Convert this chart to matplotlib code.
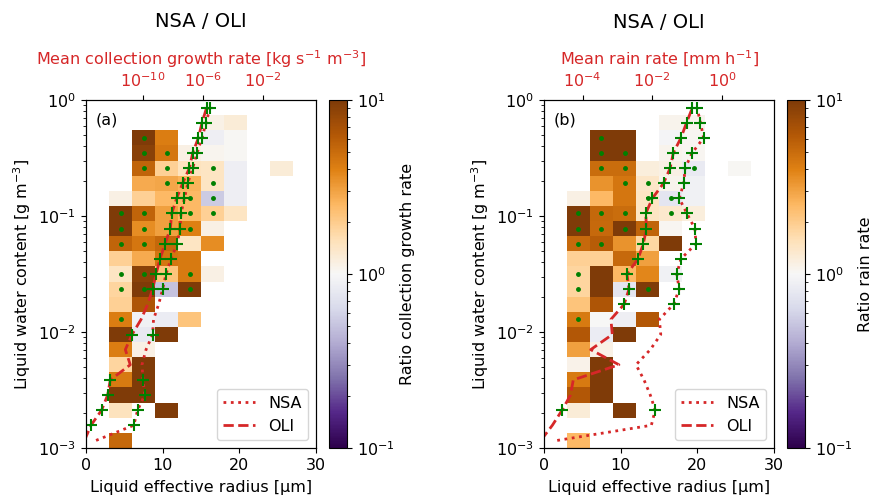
import numpy as np
import matplotlib.pyplot as plt
from matplotlib.colors import LogNorm
from matplotlib.ticker import NullLocator

plt.rcParams['font.size'] = 11.5

n = np.nan

# bins: effective radius (um) and liquid water content (g m-3)
reff_edges = np.arange(0, 31, 3)
lwc_edges = np.logspace(-3, 0, 24)
lwc_mid = np.sqrt(lwc_edges[:-1] * lwc_edges[1:])
reff_mid = 0.5 * (reff_edges[:-1] + reff_edges[1:])


def pad(row):
    return list(row) + [n] * (10 - len(row))


# ratio NSA/OLI of collection growth rate, rows from lowest LWC bin upward
ratio_cg = [pad(r) for r in [
    [n, 5.3],
    [],
    [n, 1.5, n, 10],
    [n, 10, 10],
    [n, 4.3, 10],
    [n, 1.8, 10],
    [n, 4.2, 1.15],
    [n, 10, 0.8, 10],
    [n, 4.2, 0.9, 0.85, 2.2],
    [n, 1.9, 6.5],
    [n, 1.8, 10, 0.5, 10],
    [n, 1.45, 9, 2.2, 4.3, 1.15],
    [n, 1.9, 2.8, 4.5, 4.3],
    [n, 5.5, 4.5, 5.3, 1.45, 3.6],
    [n, 10, 3.6, 3.1, 4.0, 1.15],
    [n, 10, 5.5, 3.1, 2.5, 1.9, 1.45],
    [n, 1.15, 1.9, 2.5, 2.5, 0.55, 0.87],
    [n, n, 2.8, 2.9, 2.6, 1.45, 0.88],
    [n, n, 5.5, 1.9, 1.5, 1.45, 0.87, n, 1.25],
    [n, n, 9, 4.5, 1.15, 1.06, 1.03],
    [n, n, 10, 4.2, n, 0.88, 1.03],
    [n, n, n, n, n, 1.12, 1.25],
    [],
]]

# ratio NSA/OLI of rain rate
ratio_rr = [pad(r) for r in [
    [n, 2.5],
    [],
    [n, 1.25, n, 10],
    [n, 6.3, 10],
    [n, 4.3, 10],
    [n, 1.1, 10],
    [n, 3.1, 1.12],
    [n, 6.3, 0.85, 10],
    [n, 4.3, 1.0, 0.88, 6.3],
    [n, 2.2, 6.5],
    [n, 1.8, 10, 0.75, 10],
    [n, 1.8, 10, 2.5, 3.8, 0.9],
    [n, 1.9, 1.9, 5.2, 3.1],
    [n, 5.2, 6.0, 3.4, 1.75, 10],
    [n, 10, 5.2, 10, 5.5, 1.04],
    [n, 10, 5.3, 5.0, 1.45, 1.35, 1.2],
    [n, 1.15, 2.5, 4.5, 1.45, 0.75, 0.9],
    [n, n, 3.4, 4.5, 1.4, 1.08, 0.9],
    [n, n, 5.0, 5.0, 1.2, 1.15, 0.82, n, 1.03],
    [n, n, 10, 10, n, 1.08, 1.05],
    [n, n, 10, 10, n, 0.95, 1.04],
    [n, n, n, n, n, 1.08, 1.08],
    [],
]]

# significant cells (row, col)
sig_cg = [(20, 2), (19, 2), (19, 3), (18, 2), (18, 3), (18, 5), (17, 3), (17, 5),
          (16, 4), (16, 5), (15, 1), (15, 2), (15, 4), (15, 5), (14, 1), (14, 2),
          (14, 4), (13, 1), (13, 2), (11, 1), (11, 2), (11, 4), (10, 1), (10, 2),
          (10, 4), (8, 1)]
sig_rr = [(20, 2), (19, 2), (19, 3), (18, 2), (18, 3), (18, 6), (17, 3), (17, 4),
          (16, 4), (16, 5), (15, 1), (15, 2), (15, 3), (15, 5), (14, 1), (14, 2),
          (14, 3), (13, 1), (13, 2), (11, 1), (10, 1), (10, 4), (8, 1)]

# mean rates per LWC bin (log10)
nsa_cg_log = [-13.13, -10.62, -10.36, -9.89, -10.0, -10.07, -9.8, -9.36, -9.3, -8.96,
              -8.69, -8.47, -8.13, -7.73, -7.53, -7.47, -7.24, -7.02, -6.69, -6.4,
              -6.07, -5.8, -5.53]
oli_cg_log = [-13.9, -13.47, -12.76, -12.36, -12.18, -10.85, -11.18, -10.73, -10.13, -9.69,
              -9.36, -9.13, -8.87, -8.53, -8.18, -8.09, -7.76, -7.36, -6.91, -6.69,
              -6.31, -6.07, -5.76]
nsa_rr_log = [-4.73, -2.03, -1.92, -2.06, -2.24, -2.47, -2.06, -1.76, -1.8, -1.39,
              -1.23, -1.3, -1.18, -0.75, -0.78, -1.01, -1.23, -1.1, -1.06, -0.86,
              -0.53, -0.62, -0.72]
oli_rr_log = [-5.2, -4.87, -4.59, -4.35, -4.27, -2.96, -3.77, -3.15, -3.19, -2.81,
              -2.67, -2.73, -2.41, -2.26, -2.17, -2.19, -2.0, -1.68, -1.49, -1.4,
              -1.18, -1.02, -0.85]

# rows with enough samples (green crosses)
mark_cg = [1, 2, 3, 4, 7] + list(range(10, 23))
mark_rr = [2] + list(range(9, 23))

red = '#d62728'

fig = plt.figure(figsize=(8.75, 4.96), dpi=100)

panels = [
    dict(ratio=ratio_cg, sig=sig_cg, nsa=nsa_cg_log, oli=oli_cg_log, mark=mark_cg,
         left=0.0983, cleft=0.376, tag='(a)',
         xlim=(10**-13.8, 10**1.53), ticks=[1e-10, 1e-6, 1e-2],
         toplabel='Mean collection growth rate [kg s$^{-1}$ m$^{-3}$]',
         clabel='Ratio collection growth rate'),
    dict(ratio=ratio_rr, sig=sig_rr, nsa=nsa_rr_log, oli=oli_rr_log, mark=mark_rr,
         left=0.6217, cleft=0.8994, tag='(b)',
         xlim=(10**-5.11, 10**1.49), ticks=[1e-4, 1e-2, 1e0],
         toplabel='Mean rain rate [mm h$^{-1}$]',
         clabel='Ratio rain rate'),
]

for p in panels:
    ax = fig.add_axes([p['left'], 0.0968, 0.2629, 0.7016])
    cax = fig.add_axes([p['cleft'], 0.0968, 0.0206, 0.7016])

    pc = ax.pcolormesh(reff_edges, lwc_edges, np.array(p['ratio']),
                       cmap='PuOr_r', norm=LogNorm(vmin=0.1, vmax=10))
    rows, cols = zip(*p['sig'])
    ax.plot(reff_mid[list(cols)], lwc_mid[list(rows)], 'o', color='green',
            ms=2.5, ls='none')
    ax.set_yscale('log')
    ax.set_ylim(1e-3, 1)
    ax.set_xlim(0, 30)
    ax.set_xticks([0, 10, 20, 30])
    ax.set_xlabel('Liquid effective radius [µm]', labelpad=5)
    ax.set_ylabel('Liquid water content [g m$^{-3}$]')
    ax.text(0.04, 0.965, p['tag'], transform=ax.transAxes, ha='left', va='top')

    ax2 = ax.twiny()
    nsa = 10.0 ** np.array(p['nsa'])
    oli = 10.0 ** np.array(p['oli'])
    ax2.plot(nsa, lwc_mid, ':', color=red, lw=2, label='NSA')
    ax2.plot(oli, lwc_mid, '--', color=red, lw=2, label='OLI')
    m = p['mark']
    ax2.plot(nsa[m], lwc_mid[m], '+', color='green', ms=9, mew=1.5, ls='none')
    ax2.plot(oli[m], lwc_mid[m], '+', color='green', ms=9, mew=1.5, ls='none')
    ax2.set_xscale('log')
    ax2.set_xlim(*p['xlim'])
    ax2.set_xticks(p['ticks'])
    ax2.xaxis.set_minor_locator(NullLocator())
    ax2.tick_params(axis='x', labelcolor=red)
    ax2.set_xlabel(p['toplabel'], color=red, labelpad=5)
    ax2.set_title('NSA / OLI', fontsize=14, pad=15)
    ax2.legend(loc='lower right')

    cb = fig.colorbar(pc, cax=cax)
    cb.set_label(p['clabel'])

fig.savefig('out.png', dpi=100)
